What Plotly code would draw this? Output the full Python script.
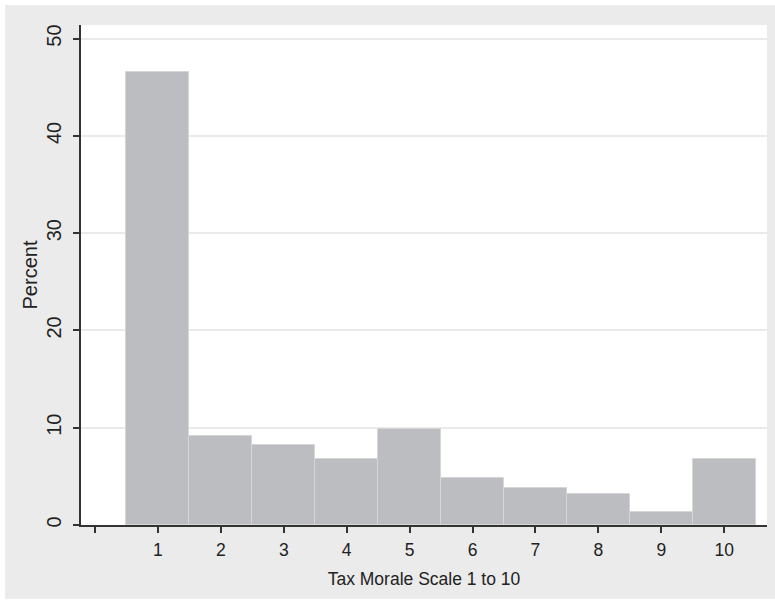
import plotly.graph_objects as go

categories = [1, 2, 3, 4, 5, 6, 7, 8, 9, 10]
percent = [46.6, 9.15, 8.2, 6.8, 9.9, 4.8, 3.85, 3.15, 1.3, 6.8]
x_tick_vals = [0, 1, 2, 3, 4, 5, 6, 7, 8, 9, 10]
x_tick_text = ["", "1", "2", "3", "4", "5", "6", "7", "8", "9", "10"]
y_tick_vals = [0, 10, 20, 30, 40, 50]

W, H = 775, 601
L, R, T, B = 81, 8, 25, 76

fig = go.Figure()
fig.add_trace(go.Bar(
    x=categories, y=percent, width=1,
    marker=dict(color="#bcbdc1", line=dict(color="#d6d6d9", width=1)),
    hoverinfo="x+y",
))

pw = W - L - R
ph = H - T - B
fig.update_layout(
    width=W, height=H,
    margin=dict(l=L, r=R, t=T, b=B),
    paper_bgcolor="white",
    plot_bgcolor="white",
    showlegend=False,
    bargap=0,
    font=dict(family="Liberation Sans, Arial, sans-serif", color="#222222", size=17),
    shapes=[
        dict(type="rect", xref="paper", yref="paper", layer="below",
             x0=-(L - 5) / pw, x1=1 + R / pw, y0=-(B - 2) / ph, y1=1 + (T - 5) / ph,
             fillcolor="#ebebeb", line=dict(width=0)),
        dict(type="rect", xref="paper", yref="paper", layer="below",
             x0=0, x1=1, y0=0, y1=1,
             fillcolor="white", line=dict(width=0)),
    ],
)
fig.update_xaxes(
    range=[-0.223, 10.68],
    tickvals=x_tick_vals, ticktext=x_tick_text,
    ticks="outside", ticklen=6, tickwidth=1.5, tickcolor="#333333",
    showline=True, linecolor="#333333", linewidth=1.5,
    showgrid=False, zeroline=False, automargin=False,
    ticklabelstandoff=2,
    tickfont=dict(size=17.5),
    title=dict(text="Tax Morale Scale 1 to 10", font=dict(size=17.5), standoff=14),
)
fig.update_yaxes(
    range=[0, 51.4],
    tickvals=y_tick_vals,
    tickangle=-90,
    ticks="outside", ticklen=6, tickwidth=1.5, tickcolor="#333333",
    showline=True, linecolor="#333333", linewidth=1.5,
    showgrid=True, gridcolor="#eaeaea", gridwidth=1.5,
    zeroline=False, automargin=False,
    ticklabelstandoff=4,
    tickfont=dict(size=20),
    title=dict(text="Percent", font=dict(size=20), standoff=0),
)

fig.write_html("out.html", config={"displayModeBar": False},
               post_script="document.body.style.margin='0';")
